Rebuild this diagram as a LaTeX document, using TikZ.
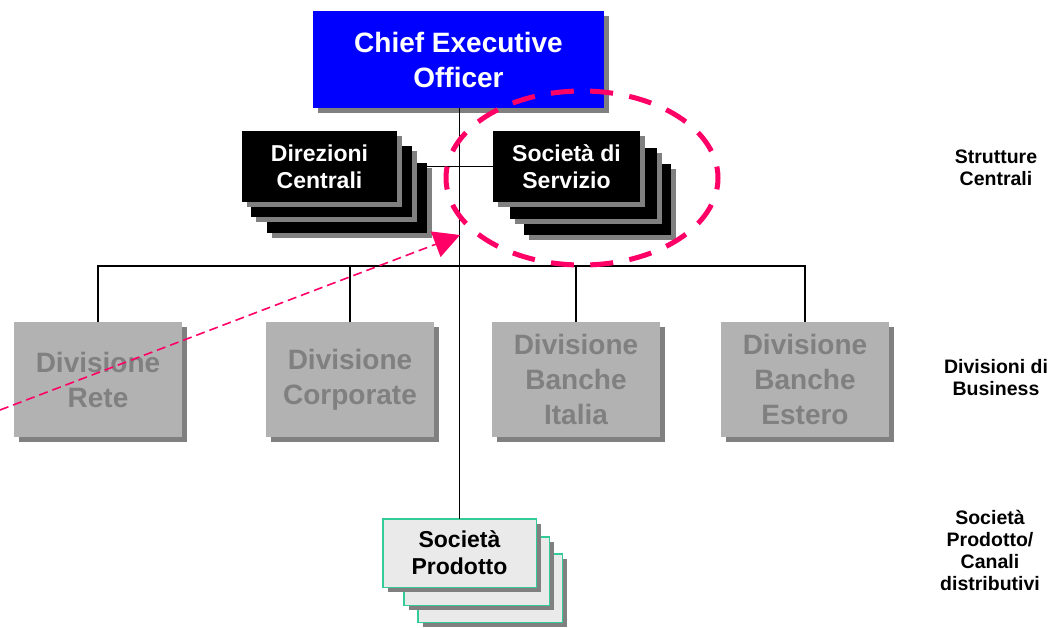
\documentclass[tikz,border=0pt]{standalone}
\usepackage{fontspec}
\setmainfont{Liberation Sans}
\usetikzlibrary{arrows.meta,shadows}
\definecolor{ceoblue}{HTML}{0000FF}
\definecolor{shad}{HTML}{808080}
\definecolor{divfill}{HTML}{B2B2B2}
\definecolor{divtext}{HTML}{808080}
\definecolor{prodfill}{HTML}{EAEAEA}
\definecolor{prodline}{HTML}{33CC99}
\definecolor{hotpink}{HTML}{FF0066}
\begin{document}
\begin{tikzpicture}[x=1pt,y=-1pt,
  sh/.style={drop shadow={shadow xshift=5pt,shadow yshift=-5pt,fill=shad,opacity=1}},
  card/.style={rectangle,inner sep=0pt,outer sep=0pt,sh,align=center},
  blackcard/.style={card,fill=black,text=white,font=\fontsize{23}{27}\selectfont\bfseries},
  ceobox/.style={card,fill=ceoblue,text=white,font=\fontsize{28}{35}\selectfont\bfseries,minimum width=291pt,minimum height=97pt},
  divbox/.style={card,fill=divfill,text=divtext,font=\fontsize{28}{35}\selectfont\bfseries,minimum width=168pt,minimum height=115pt},
  prodcard/.style={card,fill=prodfill,draw=prodline,line width=1.5pt,text=black,font=\fontsize{23}{27}\selectfont\bfseries},
  lvl/.style={font=\fontsize{19.5}{22}\selectfont\bfseries,align=center,inner sep=0pt},
  link/.style={draw=black,line width=1.2pt},
  pinkdash/.style={draw=hotpink,line width=5pt,dash pattern=on 23pt off 16.4pt,dash phase=11.5pt},
  pinkarrow/.style={draw=hotpink,line width=1.6pt,dash pattern=on 9pt off 5pt,-{Triangle[length=26pt,width=27pt]}}
]
\useasboundingbox (0,0) rectangle (1050,627);

\coordinate (bus) at (460,266);

\node[ceobox] (ceo) at (458.5,59.5) {Chief Executive\\Officer};

\node[divbox] (rete) at (98,379.5) {Divisione\\Rete};
\node[divbox] (corp) at (350,379.5) {Divisione\\Corporate};
\node[divbox] (italia) at (576,379.5) {Divisione\\Banche\\Italia};
\node[divbox] (estero) at (805,379.5) {Divisione\\Banche\\Estero};

% Direzioni Centrali stack
\node[blackcard,minimum width=160pt,minimum height=70pt] (dir3) at (347,198) {};
\node[blackcard,minimum width=161pt,minimum height=71pt] (dir2) at (331.5,181.5) {};
\node[blackcard,minimum width=155pt,minimum height=71pt] (dir1) at (319.5,166.5) {Direzioni\\Centrali};

% Società di Servizio stack
\node[blackcard,minimum width=147pt,minimum height=71pt] (ser3) at (597.5,199.5) {};
\node[blackcard,minimum width=147pt,minimum height=71pt] (ser2) at (583.5,183.5) {};
\node[blackcard,minimum width=147pt,minimum height=71pt] (ser1) at (566.5,166.5) {Società di\\Servizio};

% links
\draw[link] (rete.north) |- (bus) -| (estero.north);
\draw[link] (corp.north) -- (corp.north |- bus);
\draw[link] (italia.north) -- (italia.north |- bus);
\draw[link] (dir3.east |- ser1.west) -- (ser1.west);

% Società Prodotto stack
\node[prodcard,minimum width=144.5pt,minimum height=68.5pt] (prod3) at (490,588) {};
\node[prodcard,minimum width=145.5pt,minimum height=68.5pt] (prod2) at (476.5,571) {};
\node[prodcard,minimum width=153.5pt,minimum height=68.5pt] (prod1) at (459.5,553) {Società\\Prodotto};

\draw[link] (ceo.south -| prod1.north) -- (prod1.north);

% level labels
\node[lvl] (l1) at (996,168) {Strutture\\Centrali};
\node[lvl] (l2) at (996,378) {Divisioni di\\Business};
\node[lvl] (l3) at (990,550) {Società\\Prodotto/\\Canali\\distributivi};

% highlight
\coordinate (hl) at (582,178);
\draw[pinkdash] (hl) ellipse [x radius=136pt,y radius=87pt];
\coordinate (aS) at (0,410);
\coordinate (aT) at (460,235);
\draw[pinkarrow] (aS) -- (aT);
\end{tikzpicture}
\end{document}
